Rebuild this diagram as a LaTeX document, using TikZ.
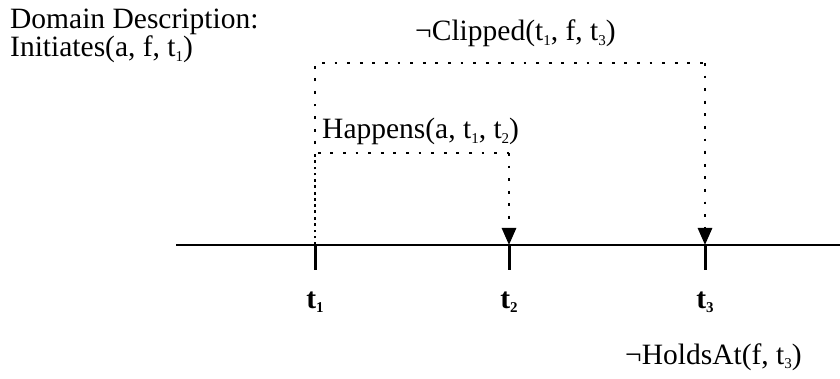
\documentclass[tikz,border=0pt]{standalone}
\usepackage{fontspec}
\setmainfont{Liberation Serif}
\usetikzlibrary{positioning, arrows.meta}

\newcommand{\tsub}[1]{\raisebox{-0.3ex}{\fontsize{15}{15}\selectfont #1}}

\begin{document}
\begin{tikzpicture}[x=1pt, y=-1pt, line join=round,
    lbl/.style={inner sep=0pt, anchor=base west, font=\fontsize{29.5}{28}\selectfont},
    dots/.style={line width=2.8pt, dash pattern=on 2.8pt off 9.8pt},
    tip/.style={-{Triangle[length=17pt, width=14pt]}}]

    \useasboundingbox (0,0) rectangle (840,379);

    % Time points on the axis
    \coordinate (axisL) at (176,245);
    \coordinate (axisR) at (840,245);
    \coordinate (t1) at (315,245);
    \coordinate (t2) at (509,245);
    \coordinate (t3) at (705,245);

    % Corners of the dotted brackets
    \coordinate (c1) at (315,63);
    \coordinate (c3) at (705,63);
    \coordinate (h1) at (315,153);
    \coordinate (h2) at (509,153);

    % Axis: thin line, thick between t1 and t3
    \draw[black, line width=1.3pt] (axisL) -- (axisR);
    \draw[black, line width=2.8pt] (t1) -- (t3);

    % Ticks and their labels
    \foreach \p/\n in {t1/1, t2/2, t3/3} {
        \draw[line width=3pt] (\p) -- ++(0,25);
        \node[lbl, anchor=base, font=\fontsize{29.5}{28}\selectfont\bfseries] (lab\p) at ([yshift=-63pt]\p) {t\tsub{\n}};
    }

    % Clipped bracket (t1 to t3)
    \draw[dots] (t1) -- (c1) -- (c3);
    \draw[dots, tip] (c3) -- (t3);

    % Happens bracket (t1 to t2)
    \draw[dots, dash phase=6pt] (t1) -- (h1) -- (h2);
    \draw[dots, tip] (h2) -- (t2);

    % Texts
    \node[lbl] (dom) at (10,29) {Domain Description:};
    \node[lbl] (init) at (10,57) {Initiates(a, f, t\tsub{1})};
    \node[lbl] (clip) at (415,41) {¬Clipped(t\tsub{1}, f, t\tsub{3})};
    \node[lbl] (happ) at (322,139) {Happens(a, t\tsub{1}, t\tsub{2})};
    \node[lbl] (hold) at (625,364) {¬HoldsAt(f, t\tsub{3})};
\end{tikzpicture}
\end{document}
